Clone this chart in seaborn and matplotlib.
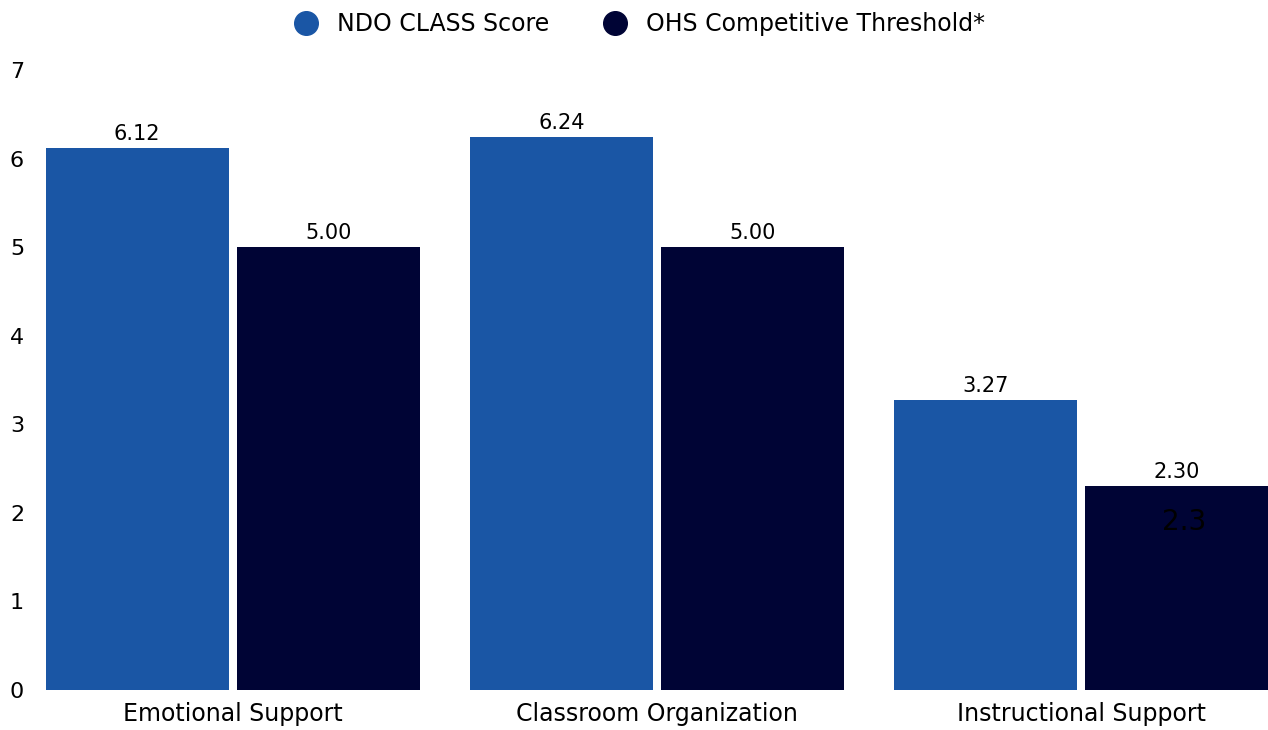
import pandas as pd
import numpy as np
import matplotlib.pyplot as plt
import seaborn as sns
from matplotlib.lines import Line2D

domains = ['Emotional Support', 'Classroom Organization', 'Instructional Support']
ndo_scores = [6.12, 6.24, 3.27]
ohs_threshold = [5.00, 5.00, 2.30]
series = ['NDO CLASS Score', 'OHS Competitive Threshold*']
colors = ['#1a56a5', '#000435']

df = pd.DataFrame({
    'domain': domains * 2,
    'score': ndo_scores + ohs_threshold,
    'series': [series[0]] * 3 + [series[1]] * 3,
})

sns.set_style('white')
plt.rcParams['font.family'] = ['DejaVu Sans']
plt.rcParams['text.color'] = 'black'

fig = plt.figure(figsize=(12.68, 7.30), dpi=100)
ax = fig.add_axes([46 / 1268, 40 / 730, 1222 / 1268, 620 / 730])

sns.barplot(data=df, x='domain', y='score', hue='series', palette=colors,
            width=0.9, gap=0.042, ax=ax, legend=False, saturation=1,
            linewidth=0, edgecolor='none')

for cont in ax.containers:
    ax.bar_label(cont, fmt='%.2f', padding=3, fontsize=15, color='black')

# stray label left on the last bar in the original
ax.text(2.243, 1.9, '2.3', ha='center', va='center', fontsize=20,
        color='black')

ax.set_xlim(-0.44, 2.44)
ax.set_ylim(0, 7)
ax.set_yticks(range(0, 8))
ax.set_xlabel('')
ax.set_ylabel('')
ax.tick_params(axis='both', length=0, labelsize=16, labelcolor='black')
ax.tick_params(axis='x', labelsize=17, pad=9)
ax.tick_params(axis='y', pad=26)
for lab in ax.get_yticklabels():
    lab.set_horizontalalignment('left')
for s in ax.spines.values():
    s.set_visible(False)

handles = [Line2D([], [], marker='o', linestyle='', markersize=17,
                  markerfacecolor=c, markeredgecolor=c) for c in colors]
fig.legend(handles, series, loc='upper center', bbox_to_anchor=(0.5, 1.012),
           ncol=2, frameon=False, fontsize=17, handletextpad=0.3,
           columnspacing=1.8, labelcolor='black')

fig.savefig('out.png', dpi=100)
